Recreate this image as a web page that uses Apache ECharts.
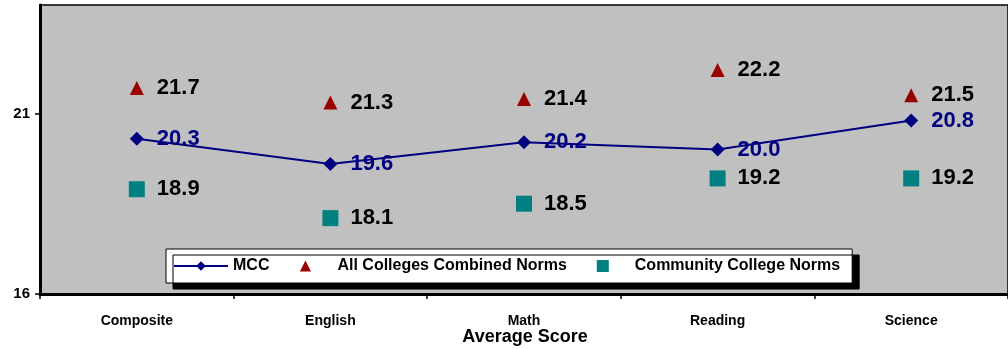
<!DOCTYPE html>
<html>
<head>
<meta charset="utf-8">
<script src="https://cdn.jsdelivr.net/npm/echarts@6/dist/echarts.min.js"></script>
<style>
  html, body { margin: 0; padding: 0; background: #ffffff; }
  #chart { width: 1008px; height: 349px; }
</style>
</head>
<body>
<div id="chart"></div>
<script>
// ACT average scores by subject area
const categories = ['Composite', 'English', 'Math', 'Reading', 'Science'];
const mccScores = [20.3, 19.6, 20.2, 20.0, 20.8];
const allCollegesNorms = [21.7, 21.3, 21.4, 22.2, 21.5];
const communityCollegeNorms = [18.9, 18.1, 18.5, 19.2, 19.2];
const yTickValues = [16, 21];

const FONT = '"Liberation Sans", Arial, sans-serif';

// Legend glyphs as paths spanning the full 54px icon box (two zero-length
// end segments), so the shape sits centred and keeps its proportions.
const TRIANGLE_ICON = 'path://M0,6 L0.01,6 Z M54,6 L53.99,6 Z M27,0 L32.5,11 L21.5,11 Z';
const SQUARE_ICON = 'path://M0,6 L0.01,6 Z M54,6 L53.99,6 Z M21,0 L33,0 L33,12 L21,12 Z';

const chart = echarts.init(document.getElementById('chart'), null, { renderer: 'canvas' });

const valueLabel = (color, distance) => ({
  show: true,
  position: 'right',
  distance: distance,
  color: color,
  fontFamily: FONT,
  fontWeight: 'bold',
  fontSize: 22,
  formatter: p => p.value.toFixed(1)
});

chart.setOption({
  animation: false,
  backgroundColor: '#ffffff',
  grid: {
    left: 40,
    top: 5,
    width: 970,
    height: 289,
    show: true,
    backgroundColor: '#c0c0c0',
    borderColor: '#000000',
    borderWidth: 1.5
  },
  legend: {
    left: 166,
    top: 249,
    orient: 'horizontal',
    itemWidth: 54,
    itemHeight: 12,
    itemGap: 9,
    padding: [9, 12, 9, 7],
    backgroundColor: '#ffffff',
    borderColor: '#000000',
    borderWidth: 1,
    shadowColor: '#000000',
    shadowBlur: 0,
    shadowOffsetX: 7,
    shadowOffsetY: 6,
    textStyle: {
      fontFamily: FONT,
      fontWeight: 'bold',
      fontSize: 16,
      color: '#000000'
    },
    data: [
      { name: 'MCC' },
      { name: 'All Colleges Combined Norms', icon: TRIANGLE_ICON },
      { name: 'Community College Norms', icon: SQUARE_ICON }
    ]
  },
  xAxis: {
    type: 'category',
    data: categories,
    boundaryGap: true,
    axisLine: { show: true, lineStyle: { color: '#000000', width: 3 } },
    axisTick: { show: true, length: 5, lineStyle: { color: '#000000', width: 1.5 } },
    axisLabel: {
      margin: 20,
      color: '#000000',
      fontFamily: FONT,
      fontWeight: 'bold',
      fontSize: 14
    },
    splitLine: { show: false }
  },
  yAxis: {
    type: 'value',
    min: 16,
    max: 24,
    interval: 5,
    axisLine: { show: true, lineStyle: { color: '#000000', width: 3 } },
    axisTick: {
      show: true,
      length: 5,
      customValues: yTickValues,
      lineStyle: { color: '#000000', width: 1.5 }
    },
    axisLabel: {
      margin: 10,
      customValues: yTickValues,
      color: '#000000',
      fontFamily: FONT,
      fontWeight: 'bold',
      fontSize: 15
    },
    splitLine: { show: false }
  },
  graphic: [{
    type: 'text',
    x: 525,
    y: 337,
    style: {
      text: 'Average Score',
      fontFamily: FONT,
      fontWeight: 'bold',
      fontSize: 18,
      fill: '#000000',
      align: 'center',
      verticalAlign: 'middle'
    }
  }],
  series: [
    {
      name: 'MCC',
      type: 'line',
      data: mccScores,
      symbol: 'diamond',
      symbolSize: 14,
      color: '#000080',
      lineStyle: { color: '#000080', width: 2 },
      itemStyle: { color: '#000080', opacity: 1 },
      label: valueLabel('#000080', 13),
      z: 3
    },
    {
      name: 'All Colleges Combined Norms',
      type: 'scatter',
      data: allCollegesNorms,
      symbol: 'triangle',
      symbolSize: 14,
      itemStyle: { color: '#990000', opacity: 1 },
      label: valueLabel('#000000', 13),
      z: 2
    },
    {
      name: 'Community College Norms',
      type: 'scatter',
      data: communityCollegeNorms,
      symbol: 'rect',
      symbolSize: 16,
      itemStyle: { color: '#008080', opacity: 1 },
      label: valueLabel('#000000', 12),
      z: 2
    }
  ]
});
</script>
</body>
</html>
